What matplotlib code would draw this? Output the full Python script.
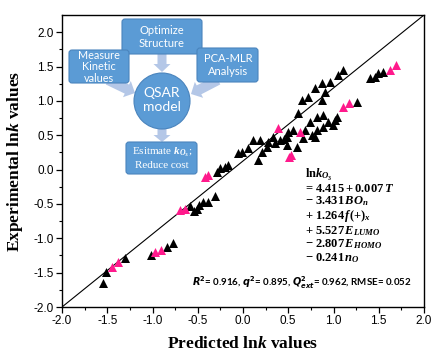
import matplotlib
matplotlib.use("Agg")
import matplotlib.pyplot as plt
from matplotlib.patches import FancyBboxPatch, Circle, FancyArrow

plt.rcParams['font.family'] = ['Liberation Sans', 'DejaVu Sans']
plt.rcParams['mathtext.fontset'] = 'custom'
plt.rcParams['mathtext.rm'] = 'Liberation Serif:bold'
plt.rcParams['mathtext.bf'] = 'Liberation Serif:bold'
plt.rcParams['mathtext.it'] = 'Liberation Serif:italic:bold'

# values (predicted, experimental ln k)
black_pred = [-1.55, -1.51, -1.30, -1.02, -0.84, -0.77,
              -0.59, -0.54, -0.51, -0.49, -0.44, -0.39, -0.31,
              -0.29, -0.25, -0.20, -0.17,
              -0.06, -0.01, 0.05, 0.11, 0.19, 0.17, 0.21, 0.27, 0.28, 0.33,
              0.35, 0.41, 0.45, 0.49, 0.50, 0.55, 0.49,
              0.60, 0.61, 0.66, 0.69, 0.74, 0.76, 0.80, 0.82, 0.82, 0.88,
              0.88, 0.94, 0.99, 1.02, 1.04,
              0.65, 0.72, 0.80, 0.87, 0.91, 0.87, 0.96, 1.05, 1.10,
              1.26, 1.40, 1.46, 1.49, 1.55]
black_exp = [-1.65, -1.49, -1.29, -1.24, -1.13, -1.07,
             -0.53, -0.60, -0.57, -0.52, -0.47, -0.47, -0.39,
             -0.04, 0.02, 0.04, 0.07,
             0.24, 0.25, 0.31, 0.43, 0.43, 0.14, 0.25, 0.33, 0.40, 0.47,
             0.39, 0.43, 0.44, 0.47, 0.55, 0.57, 0.36,
             0.33, 0.82, 0.46, 0.57, 0.69, 0.50, 0.47, 0.76, 0.57, 0.79,
             0.62, 0.69, 0.65, 0.72, 0.76,
             1.01, 1.05, 1.19, 1.26, 1.13, 1.01, 1.27, 1.38, 1.45,
             0.98, 1.33, 1.35, 1.40, 1.42]
pink_pred = [-1.45, -1.38, -0.97, -0.91, -0.70, -0.64, -0.42, -0.39,
             0.39, 0.51, 0.53, 0.63, 1.10, 1.17, 1.62, 1.69]
pink_exp = [-1.42, -1.35, -1.20, -1.17, -0.59, -0.57, -0.11, -0.08,
            0.60, 0.18, 0.21, 0.55, 0.91, 0.97, 1.45, 1.52]

xlim = (-2.0, 2.0)
ylim = (-2.0, 2.25)
ticks = [-2.0, -1.5, -1.0, -0.5, 0.0, 0.5, 1.0, 1.5, 2.0]

equation = ("ln$k_{O_3}$\n"
            "= $4.415 + 0.007\\,T$\n"
            "\u2212 $3.431\\,BO_n$\n"
            "+ $1.264\\,f(+)_x$\n"
            "+ $5.527\\,E_{LUMO}$\n"
            "\u2212 $2.807\\,E_{HOMO}$\n"
            "\u2212 $0.241\\,n_O$")
stats = (r"$\mathbfit{R}^{\mathbf{2}}$= 0.916, $\mathbfit{q}^{\mathbf{2}}$= 0.895, "
         r"$\mathbfit{Q}^{\mathbf{2}}_{\mathbfit{ext}}$= 0.962, RMSE= 0.052")

W, H = 433, 355
fig = plt.figure(figsize=(W / 100, H / 100), dpi=100)
ax = fig.add_axes([62 / W, 1 - 307 / H, 362 / W, 292 / H])

ax.plot(xlim, ylim, color='black', lw=0.8, zorder=1)
ax.scatter(black_pred, black_exp, marker='^', s=42, color='black', lw=0, zorder=2)
ax.scatter(pink_pred, pink_exp, marker='^', s=42, color='#ff1a8c', lw=0, zorder=3)

ax.set_xlim(xlim)
ax.set_ylim(ylim)
ax.set_xticks(ticks)
ax.set_yticks(ticks)
ax.set_xticklabels([f"{t:.1f}" for t in ticks])
ax.set_yticklabels([f"{t:.1f}" for t in ticks])
ax.set_xticks([t + 0.25 for t in ticks[:-1]], minor=True)
ax.set_yticks([t + 0.25 for t in ticks[:-1]], minor=True)
ax.tick_params(which='major', direction='out', length=4, width=0.9, labelsize=8.5, pad=2)
ax.tick_params(which='minor', direction='out', length=2.5, width=0.8)
for s in ax.spines.values():
    s.set_linewidth(1.0)

ax.set_xlabel("Predicted ln$k$ values", fontfamily='Liberation Serif',
              fontweight='bold', fontsize=12.5, labelpad=6)
ax.set_ylabel("Experimental ln$k$ values", fontfamily='Liberation Serif',
              fontweight='bold', fontsize=12.5, labelpad=6)

# overlay in pixel units for the flow chart and the annotations
ov = fig.add_axes([0, 0, 1, 1], zorder=5)
ov.set_xlim(0, W)
ov.set_ylim(H, 0)
ov.axis('off')

box_c = '#5b9bd5'
edge_c = '#4a84bd'
arr_c = '#b4c7e7'

# arrows
ov.add_patch(FancyArrow(162, 53, 0, 19, width=9, head_width=17, head_length=8,
                        length_includes_head=True, color=arr_c, lw=0))
ov.add_patch(FancyArrow(108, 80, 27, 13, width=10, head_width=18, head_length=9,
                        length_includes_head=True, color=arr_c, lw=0))
ov.add_patch(FancyArrow(218, 80, -27, 14, width=10, head_width=18, head_length=9,
                        length_includes_head=True, color=arr_c, lw=0))
ov.add_patch(FancyArrow(162, 127, 0, 15, width=9, head_width=17, head_length=7,
                        length_includes_head=True, color=arr_c, lw=0))

def box(x0, y0, x1, y1):
    ov.add_patch(FancyBboxPatch((x0, y0), x1 - x0, y1 - y0,
                                boxstyle='round,pad=0,rounding_size=3',
                                fc=box_c, ec=edge_c, lw=0.8))

box(122, 19, 202, 54)
box(69, 50, 129, 83)
box(197, 48, 258, 82)
box(126, 142, 197, 174)
ov.add_patch(Circle((162, 101), 28, fc=box_c, ec=edge_c, lw=0.8))

tkw = dict(color='white', ha='center', va='center', fontfamily='Lato')
ov.text(162, 37, "Optimize\nStructure", fontsize=8, linespacing=1.25, **tkw)
ov.text(99, 67, "Measure\nKinetic\nvalues", fontsize=7.8, linespacing=1.05, **tkw)
ov.text(228, 65, "PCA-MLR\nAnalysis", fontsize=8, linespacing=1.25, **tkw)
ov.text(162, 100, "QSAR\nmodel", fontsize=10, linespacing=1.25, **tkw)
ov.text(162, 158, "Esitmate $k_{O_3}$;\nReduce cost", color='white', ha='center',
        va='center', fontfamily='Liberation Serif', fontsize=8, linespacing=1.25)

ov.text(305, 167, equation, ha='left', va='top', fontfamily='Liberation Serif',
        fontweight='bold', fontsize=9, linespacing=0.98)
ov.text(192, 283, stats, ha='left', va='center', fontfamily='Lato',
        fontweight='bold', fontsize=7, math_fontfamily='dejavusans')

fig.savefig("out.png", dpi=100)
